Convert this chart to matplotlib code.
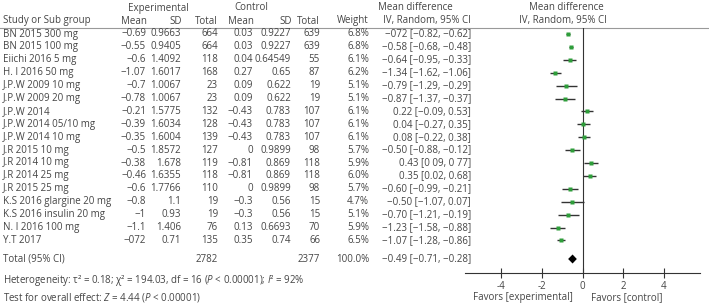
import numpy as np
import matplotlib.pyplot as plt

plt.rcParams['font.family'] = ['Open Sans', 'DejaVu Sans']
plt.rcParams['mathtext.fontset'] = 'custom'
plt.rcParams['mathtext.rm'] = 'Open Sans'
plt.rcParams['mathtext.it'] = 'Open Sans:italic'

# ---- data ----
studies = ["BN 2015 300 mg", "BN 2015 100 mg", "Eiichi 2016 5 mg", "H. I 2016 50 mg",
           "J.P.W 2009 10 mg", "J.P.W 2009 20 mg", "J.P.W 2014", "J.P.W 2014 05/10 mg",
           "J.P.W 2014 10 mg", "J.R 2015 10 mg", "J.R 2014 10 mg", "J.R 2014 25 mg",
           "J.R 2015 25 mg", "K.S 2016 glargine 20 mg", "K.S 2016 insulin 20 mg",
           "N. I 2016 100 mg", "Y.T 2017"]
exp_mean = ["−0.69", "−0.55", "−0.6", "−1.07", "−0.7", "−0.78", "−0.21", "−0.39", "−0.35",
            "−0.5", "−0.38", "−0.46", "−0.6", "−0.8", "−1", "−1.1", "−072"]
exp_sd = ["0.9663", "0.9405", "1.4092", "1.6017", "1.0067", "1.0067", "1.5775", "1.6034",
          "1.6004", "1.8572", "1.678", "1.6355", "1.7766", "1.1", "0.93", "1.406", "0.71"]
exp_n = [664, 664, 118, 168, 23, 23, 132, 128, 139, 127, 119, 118, 110, 19, 19, 76, 135]
ctl_mean = ["0.03", "0.03", "0.04", "0.27", "0.09", "0.09", "−0.43", "−0.43", "−0.43",
            "0", "−0.81", "−0.81", "0", "−0.3", "−0.3", "0.13", "0.35"]
ctl_sd = ["0.9227", "0.9227", "0.64549", "0.65", "0.622", "0.622", "0.783", "0.783", "0.783",
          "0.9899", "0.869", "0.869", "0.9899", "0.56", "0.56", "0.6693", "0.74"]
ctl_n = [639, 639, 55, 87, 19, 19, 107, 107, 107, 98, 118, 118, 98, 15, 15, 70, 66]
weight = ["6.8%", "6.8%", "6.1%", "6.2%", "5.1%", "5.1%", "6.1%", "6.1%", "6.1%",
          "5.7%", "5.9%", "6.0%", "5.7%", "4.7%", "5.1%", "5.9%", "6.5%"]
md = [-0.72, -0.58, -0.64, -1.34, -0.79, -0.87, 0.22, 0.04, 0.08,
      -0.50, 0.43, 0.35, -0.60, -0.50, -0.70, -1.23, -1.07]
ci_lo = [-0.82, -0.68, -0.95, -1.62, -1.29, -1.37, -0.09, -0.27, -0.22,
         -0.88, 0.09, 0.02, -0.99, -1.07, -1.21, -1.58, -1.28]
ci_hi = [-0.62, -0.48, -0.33, -1.06, -0.29, -0.37, 0.53, 0.35, 0.38,
         -0.12, 0.77, 0.68, -0.21, 0.07, -0.19, -0.88, -0.86]
ci_text = ["−072 [−0.82, −0.62]", "−0.58 [−0.68, −0.48]", "−0.64 [−0.95, −0.33]",
           "−1.34 [−1.62, −1.06]", "−0.79 [−1.29, −0.29]", "−0.87 [−1.37, −0.37]",
           "0.22 [−0.09, 0.53]", "0.04 [−0.27, 0.35]", "0.08 [−0.22, 0.38]",
           "−0.50 [−0.88, −0.12]", "0.43 [0 09, 0 77]", "0.35 [0.02, 0.68]",
           "−0.60 [−0.99, −0.21]", "−0.50 [−1.07, 0.07]", "−0.70 [−1.21, −0.19]",
           "−1.23 [−1.58, −0.88]", "−1.07 [−1.28, −0.86]"]
total_exp, total_ctl = 2782, 2377
total_md, total_lo, total_hi = -0.49, -0.71, -0.28
xticks = [-4, -2, 0, 2, 4]

# ---- layout (pixel-like coordinates, y grows downward) ----
W, H = 709, 307
row0, dy = 34, 12.9
y_rows = row0 + dy * np.arange(len(studies))
y_total = 259
txt_col = '#454545'
fs = 7.0

fig = plt.figure(figsize=(W / 100, H / 100), dpi=100)
tab = fig.add_axes([0, 0, 1, 1])
tab.set_xlim(0, W)
tab.set_ylim(H, 0)
tab.axis('off')

def put(x, y, s, ha='left', **kw):
    tab.text(x, y, s, ha=ha, va='center', fontsize=fs, color=txt_col, **kw)

# headers
put(158, 8, "Experimental", 'center')
put(251, 8, "Control", 'center')
put(415, 8, "Mean difference", 'center')
put(566, 8, "Mean difference", 'center')
put(3, 21, "Study or Sub group")
put(147, 21, "Mean", 'right')
put(182, 21, "SD", 'right')
put(218, 21, "Total", 'right')
put(254, 21, "Mean", 'right')
put(292, 21, "SD", 'right')
put(320, 21, "Total", 'right')
put(369, 21, "Weight", 'right')
put(427, 21, "IV, Random, 95% CI", 'center')
put(563, 21, "IV, Random, 95% CI", 'center')
tab.plot([0, W], [28, 28], color='#999999', lw=0.8)

# study rows
for i, y in enumerate(y_rows):
    put(3, y, studies[i])
    put(146, y, exp_mean[i], 'right')
    put(181, y, exp_sd[i], 'right')
    put(218, y, str(exp_n[i]), 'right')
    put(253, y, ctl_mean[i], 'right')
    put(291, y, ctl_sd[i], 'right')
    put(320, y, str(ctl_n[i]), 'right')
    put(369, y, weight[i], 'right')
    put(471, y, ci_text[i], 'right')

# total + footer
put(3, y_total, "Total (95% CI)")
put(218, y_total, str(total_exp), 'right')
put(320, y_total, str(total_ctl), 'right')
put(369, y_total, "100.0%", 'right')
put(471, y_total, "−0.49 [−0.71, −0.28]", 'right')
put(3, 280, r"Heterogeneity: τ² = 0.18; χ² = 194.03, df = 16 ($P$ < 0.00001); $I$² = 92%")
put(3, 298, r"Test for overall effect: $Z$ = 4.44 ($P$ < 0.00001)")

# ---- forest plot ----
ax_top, ax_bot = 28, 273
ax = fig.add_axes([465 / W, (H - ax_bot) / H, (700 - 465) / W, (ax_bot - ax_top) / H])
ax.set_xlim(-5.8, 5.8)
ax.set_ylim(ax_bot, ax_top)
ax.patch.set_alpha(0)
for s in ['top', 'right', 'left']:
    ax.spines[s].set_visible(False)
ax.spines['bottom'].set_color('#333333')
ax.spines['bottom'].set_linewidth(0.8)
ax.set_yticks([])
ax.set_xticks(xticks)
ax.set_xticklabels([str(t) for t in xticks])
ax.tick_params(axis='x', direction='inout', length=7, width=0.8, colors='#333333',
               labelsize=fs, labelcolor=txt_col, pad=2)
ax.axvline(0, color='#333333', lw=0.8)

ax.hlines(y_rows, ci_lo, ci_hi, color='#333333', lw=1)
ax.plot(md, y_rows, 's', color='#2e9e3a', ms=2.2, mec='none')
ax.fill([total_lo, total_md, total_hi, total_md],
        [y_total, y_total - 4.5, y_total, y_total + 4.5], color='black', lw=0)

ax.text(0.46, -0.1, "Favors [experimental]", transform=ax.transAxes, ha='right',
        va='center', fontsize=fs, color=txt_col, clip_on=False)
ax.text(0.535, -0.1, "Favors [control]", transform=ax.transAxes, ha='left',
        va='center', fontsize=fs, color=txt_col, clip_on=False)

fig.savefig("out.png", dpi=100)
